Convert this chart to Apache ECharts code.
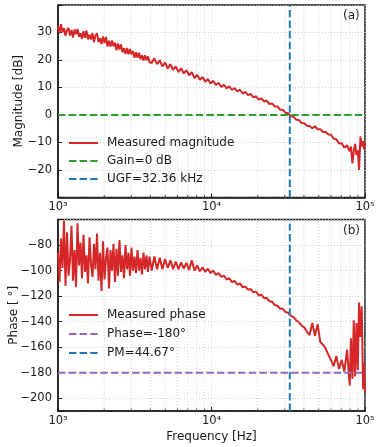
<!DOCTYPE html>
<html>
<head>
<meta charset="utf-8">
<script src="https://cdn.jsdelivr.net/npm/echarts@6/dist/echarts.min.js"></script>
<style>
  html, body { margin: 0; padding: 0; background: #fff; }
  #chart { width: 381px; height: 447px; }
</style>
</head>
<body>
<div id="chart"></div>
<script>
// 开环传函测量: 幅频 (a) + 相频 (b), 对数频率轴

// 频率点 [Hz] (两条测量曲线共用), 低频段点更密
const FREQ = [
  1000, 1023, 1046, 1070, 1094, 1119, 1145, 1171, 1197, 1225, 1252, 1281, 1310, 1340, 1370, 1402,
  1433, 1466, 1499, 1533, 1568, 1604, 1641, 1678, 1716, 1755, 1795, 1836, 1878, 1920, 1964, 2009,
  2055, 2101, 2149, 2198, 2248, 2299, 2351, 2405, 2459, 2515, 2573, 2631, 2691, 2752, 2815, 2879,
  2944, 3011, 3080, 3150, 3222, 3295, 3370, 3447, 3525, 3605, 3687, 3771, 3857, 3945,
  4080, 4240, 4420, 4600, 4790, 4980, 5190, 5400, 5620, 5850, 6090, 6340, 6600,
  6870, 7150, 7440, 7750, 8060, 8390, 8740, 9100, 9470, 9860, 10260, 10680, 11120, 11580, 12050,
  12540, 13060, 13590, 14150, 14730, 15330, 15960, 16610, 17290, 18000, 18740, 19510, 20310, 21140,
  22010, 22910, 23850, 24830, 25840, 26900, 28000, 29150, 30350, 31590, 32880, 34230, 35630, 37090,
  38610, 40190, 41840, 43550, 45340, 47190, 49130, 51140, 53240, 55420, 57690, 60050, 62510, 65070,
  67740, 70510, 73400, 76410, 79540, 81000, 82800, 84500, 86190, 88000, 89720, 91500, 93400, 95200,
  97220, 98600, 100000,
];

// 幅度 [dB]
const MAG_DB = [
  32.6, 29.7, 33.0, 30.1, 31.6, 28.8, 30.9, 31.7, 28.9, 30.9, 28.2, 31.1, 29.4, 31.3, 28.4, 29.7,
  27.7, 30.5, 28.1, 30.7, 27.5, 29.3, 27.5, 29.8, 26.5, 28.9, 29.7, 26.5, 27.9, 25.8, 28.6, 26.2,
  28.4, 24.9, 27.0, 24.9, 27.1, 25.0, 26.3, 23.5, 26.0, 23.8, 25.7, 22.8, 24.3, 22.2, 24.4, 22.1,
  24.0, 22.1, 23.2, 20.8, 22.8, 20.8, 22.6, 20.3, 21.7, 19.8, 21.7, 19.9, 21.3, 19.2,
  18.9, 20.6, 18.5, 19.9, 17.7, 19.1, 16.9, 18.5, 16.4, 17.7, 15.6, 17.0, 15.1,
  16.3, 14.4, 15.6, 13.4, 14.6, 12.8, 13.8, 12.1, 13.1, 11.5, 12.4, 10.9, 11.7, 10.2, 11.0,
  9.7, 10.4, 9.1, 9.8, 8.6, 9.2, 7.8, 8.4, 7.2, 7.7, 6.4, 6.8, 5.6, 6.0,
  4.9, 5.2, 4.0, 4.2, 3.1, 3.1, 1.9, 1.9, 0.8, 0.6, -0.5, -0.6, -1.7, -1.8,
  -2.9, -3.0, -3.9, -4.0, -4.8, -4.1, -5.2, -5.2, -6.2, -6.2, -7.1, -7.2, -8.6, -8.8,
  -10.4, -10.3, -11.9, -11.0, -13.2, -11.5, -17.6, -13.0, -10.5, -14.5, -12.8, -20.0, -7.8, -11.5,
  -9.5, -12.5, -10.0,
];

// 相位 [°]
const PHASE_DEG = [
  -86, -109, -75, -98, -61, -112, -70, -104, -92, -65, -108, -84, -113, -63, -96, -78,
  -106, -72, -101, -88, -110, -74, -95, -105, -79, -99, -71, -108, -86, -116, -77, -107,
  -90, -82, -114, -84, -100, -79, -109, -83, -104, -76, -101, -88, -106, -80, -99, -86,
  -104, -82, -100, -89, -102, -84, -100, -90, -103, -86, -99, -88, -101, -89,
  -100, -89, -99, -90, -99, -91, -98, -92, -99, -93, -99, -93.5, -98.5,
  -94, -99.5, -92, -100, -96, -100.5, -97.5, -101, -98.5, -102, -100, -103.5, -102, -105, -104,
  -107, -106, -109, -108, -111, -110, -113, -112.5, -115, -114.5, -117, -116.5, -119.5, -119,
  -121.5, -121.5, -124, -124.5, -127, -127.5, -130, -130, -132.5, -133, -135.5, -136.5, -139, -140.5,
  -143, -144.5, -148, -150.5, -141, -151, -142, -156, -158, -161, -166, -170, -175, -167,
  -177, -170, -179, -162, -190, -153, -185, -139, -183, -141, -178, -125, -152, -128,
  -193, -172, -195,
];

// x 次刻度 / 次网格
const MINOR_FREQ = [2000, 3000, 4000, 5000, 6000, 7000, 8000, 9000,
  20000, 30000, 40000, 50000, 60000, 70000, 80000, 90000];

const UGF_HZ = 32360;
const MAG_RANGE = [-30, 40];
const PHASE_RANGE = [-210, -60];
const F_RANGE = [1000, 100000];

const C = {
  red: '#d62728', green: '#2ca02c', blue: '#1f77b4', purple: '#9467bd',
  frame: '#1a1a1a', grid: '#c4c4c4', text: '#1a1a1a',
};
const FONT = 'DejaVu Sans';
const DASH = [7.4, 3.2];

const SUP = { 3: '\u00b3', 4: '\u2074', 5: '\u2075' };
const fmtLog = (v) => '10' + SUP[Math.round(Math.log10(v))];
const minus = (v) => (v < 0 ? '\u2212' + Math.abs(v) : String(v));

function xAxisOpt(gridIndex, name) {
  return {
    type: 'log', logBase: 10, gridIndex, min: F_RANGE[0], max: F_RANGE[1],
    name, nameLocation: 'middle', nameGap: 20, nameMoveOverlap: false,
    nameTextStyle: { color: C.text, fontFamily: FONT, fontSize: 12 },
    axisLine: { show: true, onZero: false, lineStyle: { color: C.frame, width: 1.5 } },
    axisTick: { show: true, inside: true, length: 4, lineStyle: { color: C.frame, width: 1 } },
    axisLabel: { color: C.text, fontFamily: FONT, fontSize: 11.5, margin: 4, formatter: fmtLog },
    splitLine: { show: true, lineStyle: { color: C.grid, width: 0.8, type: [1, 2] } },
  };
}

function yAxisOpt(gridIndex, name, range, extra, nameGap) {
  return Object.assign({
    type: 'value', gridIndex, min: range[0], max: range[1],
    name, nameLocation: 'middle', nameGap, nameRotate: 90, nameMoveOverlap: false,
    nameTextStyle: { color: C.text, fontFamily: FONT, fontSize: 12 },
    axisLine: { show: true, onZero: false, lineStyle: { color: C.frame, width: 1.5 } },
    axisTick: { show: true, inside: true, length: 4, lineStyle: { color: C.frame, width: 1 } },
    axisLabel: {
      color: C.text, fontFamily: FONT, fontSize: 11.5, margin: 6,
      formatter: (v) => (v <= range[0] || v >= range[1] ? '' : minus(v)),
    },
    splitLine: { show: true, lineStyle: { color: C.grid, width: 0.8, type: [1, 2] } },
  }, extra);
}

// 次网格 + 底部向内的小刻度, 走坐标轴换算
function minorSeries(idx, range) {
  return {
    type: 'custom', xAxisIndex: idx, yAxisIndex: idx, silent: true, z: 1,
    data: MINOR_FREQ.map((f) => [f, range[0]]),
    renderItem: (params, api) => {
      const f = api.value(0);
      const bot = api.coord([f, range[0]]);
      const top = api.coord([f, range[1]]);
      return {
        type: 'group',
        children: [
          { type: 'line', shape: { x1: bot[0], y1: bot[1], x2: top[0], y2: top[1] },
            style: { stroke: C.grid, lineWidth: 0.8, lineDash: [1, 2] } },
          { type: 'line', shape: { x1: bot[0], y1: bot[1], x2: bot[0], y2: bot[1] - 2.5 },
            style: { stroke: C.frame, lineWidth: 0.8 } },
        ],
      };
    },
  };
}

function lineSeries(name, idx, data, color, dashed) {
  return {
    name, type: 'line', xAxisIndex: idx, yAxisIndex: idx, data,
    symbol: 'none', smooth: false, z: 3,
    lineStyle: { color, width: 2, type: dashed ? DASH : 'solid' },
    itemStyle: { color },
  };
}

function legendOpt(names, top, gap) {
  return {
    data: names, orient: 'vertical', left: 63, top, itemWidth: 29, itemHeight: 12, itemGap: gap,
    itemStyle: { opacity: 0 },
    textStyle: { color: C.text, fontFamily: FONT, fontSize: 12, padding: [0, 0, 0, 4] },
    selectedMode: false,
  };
}

const chart = echarts.init(document.getElementById('chart'), null, { renderer: 'canvas' });
chart.setOption({
  animation: false,
  backgroundColor: '#fff',
  grid: [
    { left: 58, top: 5, width: 307, height: 192.5, show: true, borderColor: C.frame, borderWidth: 1.5,
      outerBoundsMode: 'none', containLabel: false },
    { left: 58, top: 219.5, width: 307, height: 191.5, show: true, borderColor: C.frame, borderWidth: 1.5,
      outerBoundsMode: 'none', containLabel: false },
  ],
  xAxis: [xAxisOpt(0, ''), xAxisOpt(1, 'Frequency [Hz]')],
  yAxis: [
    yAxisOpt(0, 'Magnitude [dB]', MAG_RANGE, { interval: 10 }, 33),
    yAxisOpt(1, 'Phase [ \u00b0]', PHASE_RANGE, { minInterval: 20, maxInterval: 20, splitNumber: 7 }, 38),
  ],
  legend: [
    legendOpt(['Measured magnitude', 'Gain=0 dB', 'UGF=32.36 kHz'], 132, 6),
    legendOpt(['Measured phase', 'Phase=-180\u00b0', 'PM=44.67\u00b0'], 304, 7),
  ],
  graphic: [
    { type: 'text', left: 343, top: 10, style: { text: '(a)', font: `12px "${FONT}"`, fill: C.text } },
    { type: 'text', left: 343, top: 225, style: { text: '(b)', font: `12px "${FONT}"`, fill: C.text } },
  ],
  series: [
    minorSeries(0, MAG_RANGE),
    minorSeries(1, PHASE_RANGE),
    lineSeries('Measured magnitude', 0, FREQ.map((f, i) => [f, MAG_DB[i]]), C.red, false),
    lineSeries('Gain=0 dB', 0, [[F_RANGE[0], 0], [F_RANGE[1], 0]], C.green, true),
    lineSeries('UGF=32.36 kHz', 0, [[UGF_HZ, MAG_RANGE[0]], [UGF_HZ, MAG_RANGE[1]]], C.blue, true),
    lineSeries('Measured phase', 1, FREQ.map((f, i) => [f, PHASE_DEG[i]]), C.red, false),
    lineSeries('Phase=-180\u00b0', 1, [[F_RANGE[0], -180], [F_RANGE[1], -180]], C.purple, true),
    lineSeries('PM=44.67\u00b0', 1, [[UGF_HZ, PHASE_RANGE[0]], [UGF_HZ, PHASE_RANGE[1]]], C.blue, true),
  ],
});
</script>
</body>
</html>
